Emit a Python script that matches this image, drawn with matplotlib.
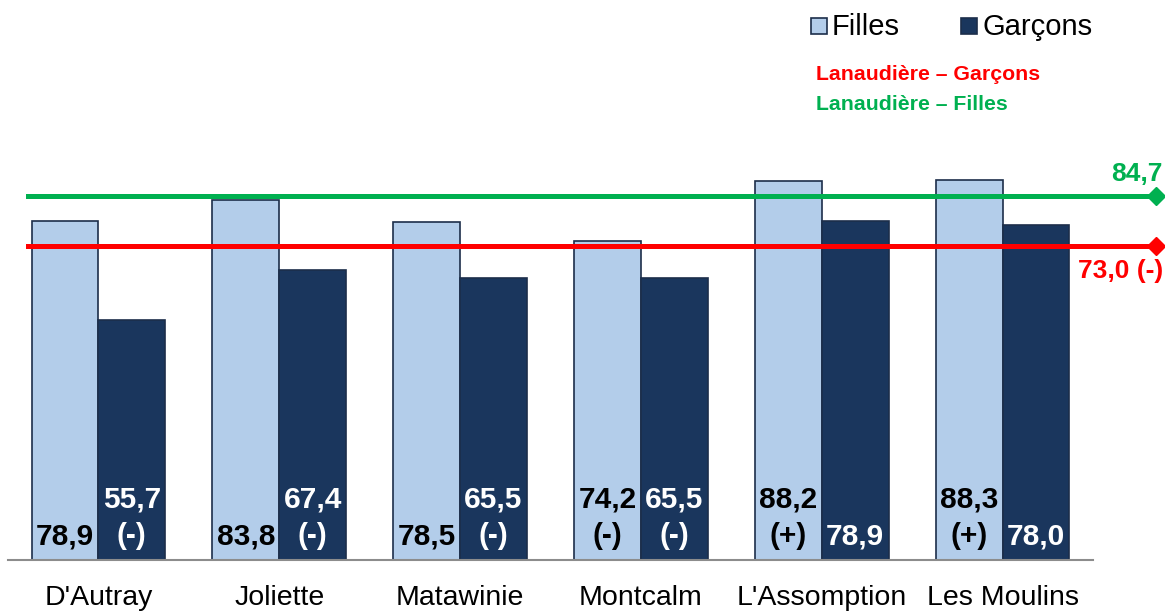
import matplotlib
matplotlib.use("Agg")
import matplotlib.pyplot as plt
import numpy as np

plt.rcParams['font.family'] = ['Liberation Sans', 'DejaVu Sans']

categories = ["D'Autray", "Joliette", "Matawinie", "Montcalm", "L'Assomption", "Les Moulins"]
filles = [78.9, 83.8, 78.5, 74.2, 88.2, 88.3]
garcons = [55.7, 67.4, 65.5, 65.5, 78.9, 78.0]
filles_labels = ["78,9", "83,8", "78,5", "74,2\n(-)", "88,2\n(+)", "88,3\n(+)"]
garcons_labels = ["55,7\n(-)", "67,4\n(-)", "65,5\n(-)", "65,5\n(-)", "78,9", "78,0"]
ref_garcons = 73.0
ref_filles = 84.7
ref_garcons_label = "73,0 (-)"
ref_filles_label = "84,7"

W, H = 1165, 611
fig = plt.figure(figsize=(W / 100, H / 100), dpi=100)
ax = fig.add_axes([8 / W, (H - 560) / H, (1093 - 8) / W, (560 - 150) / H])
ax.set_xlim(-0.5, len(categories) - 0.5)
ax.set_ylim(0, 410 / 4.3)

c_f = '#B3CDEA'
c_g = '#1A365D'
edge = '#1C2E4A'
bw = 0.37
x = np.arange(len(categories))
ax.bar(x - bw / 2, filles, bw, color=c_f, edgecolor=edge, linewidth=1.2, zorder=2)
ax.bar(x + bw / 2, garcons, bw, color=c_g, edgecolor=edge, linewidth=1.2, zorder=2)

for i in range(len(categories)):
    ax.annotate(filles_labels[i], (x[i] - bw / 2, 0), xytext=(0, 7), textcoords='offset points',
                ha='center', va='bottom', fontsize=21.5, fontweight='bold', color='black',
                linespacing=1.4, multialignment='center', zorder=4)
    ax.annotate(garcons_labels[i], (x[i] + bw / 2, 0), xytext=(0, 7), textcoords='offset points',
                ha='center', va='bottom', fontsize=21.5, fontweight='bold', color='white',
                linespacing=1.4, multialignment='center', zorder=4)

# reference lines
x0 = -0.5 + (28 - 8) / 181.0
x1 = -0.5 + (1157 - 8) / 181.0
ax.plot([x0, x1], [ref_filles, ref_filles], color='#00B050', lw=3.6, clip_on=False, zorder=3)
ax.plot([x1], [ref_filles], marker='D', color='#00B050', ms=9, clip_on=False, zorder=3)
ax.plot([x0, x1], [ref_garcons, ref_garcons], color='#FF0000', lw=3.6, clip_on=False, zorder=3)
ax.plot([x1], [ref_garcons], marker='D', color='#FF0000', ms=9, clip_on=False, zorder=3)

ax.annotate(ref_filles_label, (x1, ref_filles), xytext=(5, 7), textcoords='offset points',
            ha='right', va='bottom', fontsize=19, fontweight='bold', color='#00B050', annotation_clip=False)
ax.annotate(ref_garcons_label, (x1, ref_garcons), xytext=(5, -9), textcoords='offset points',
            ha='right', va='top', fontsize=19, fontweight='bold', color='#FF0000', annotation_clip=False)

# axes styling
for s in ['top', 'right', 'left']:
    ax.spines[s].set_visible(False)
ax.spines['bottom'].set_color('#8C8C8C')
ax.spines['bottom'].set_linewidth(1.5)
ax.set_yticks([])
ax.set_xticks(x)
ax.set_xticklabels(categories, fontsize=20.5)
ax.tick_params(axis='x', length=0, pad=18)

# legend (manual)
def px(xp, yp):
    return xp / W, 1 - yp / H

fig.patches.append(plt.Rectangle(px(811, 34), 16 / W, 16 / H, transform=fig.transFigure,
                                 facecolor=c_f, edgecolor=edge, linewidth=1.2))
fig.text(*px(832, 27), "Filles", fontsize=21, va='center', ha='left')
fig.patches.append(plt.Rectangle(px(961, 34), 16 / W, 16 / H, transform=fig.transFigure,
                                 facecolor=c_g, edgecolor=edge, linewidth=1.2))
fig.text(*px(982, 27), "Garçons", fontsize=21, va='center', ha='left')
fig.text(*px(816, 74), "Lanaudière – Garçons", fontsize=15.3, fontweight='bold',
         color='#FF0000', va='center', ha='left')
fig.text(*px(816, 105), "Lanaudière – Filles", fontsize=15.3, fontweight='bold',
         color='#00B050', va='center', ha='left')

fig.savefig("out.png", dpi=100)
